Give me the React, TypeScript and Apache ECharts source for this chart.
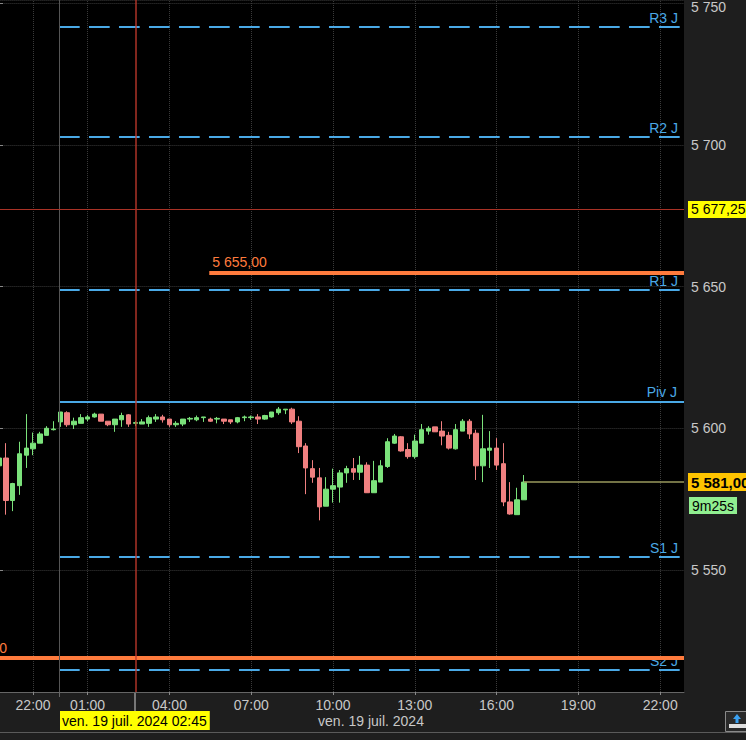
import React, { useEffect, useRef } from 'react';
import * as echarts from 'echarts';

// ---------- axis categories (15-minute slots) ----------
const PREV_DAY_SLOTS = ['20:45', '21:00', '21:15', '21:30', '21:45', '22:00', '22:15', '22:30', '22:45'];
const pad2 = (n: number) => (n < 10 ? '0' : '') + n;
const DAY_SLOTS: string[] = [];
for (let h = 0; h < 23; h++) for (let m = 0; m < 60; m += 15) DAY_SLOTS.push(`${pad2(h)}:${pad2(m)}`);
const CATEGORIES = PREV_DAY_SLOTS.concat(DAY_SLOTS);
const TICK_LABELS = ['22:00', '01:00', '04:00', '07:00', '10:00', '13:00', '16:00', '19:00'];

// ---------- candles ----------
const OPEN = [
  5586.75, 5589.5, 5574.5, 5579.75, 5590.5, 5592.75, 5594.75, 5597.5, 5599.5, 5602.25,
  5605.5, 5601.25, 5601.75, 5603.25, 5604, 5605, 5602.5, 5601.25, 5603, 5604.75,
  5601.75, 5601.5, 5601.75, 5603.25, 5604, 5603.25, 5601.25, 5601.5, 5603.25, 5603,
  5603.75, 5603.25, 5603.25, 5603.25, 5603, 5602.25, 5603.75, 5603.75, 5604, 5603.25,
  5604, 5605.5, 5606.5, 5606.75, 5602.5, 5593.75, 5585.75, 5582.5, 5572.5, 5578.5,
  5579.25, 5584.25, 5585.75, 5584.5, 5587, 5577.25, 5581, 5586.5, 5594.75, 5597,
  5592.5, 5590, 5594.75, 5599, 5600.5, 5599, 5597.5, 5592.75, 5599, 5602.5,
  5598.25, 5586.75, 5592.25, 5593, 5587.5, 5574, 5569.5, 5574.75,
];
const CLOSE = [
  5589.5, 5574.5, 5580.5, 5591, 5593, 5594.75, 5598, 5600, 5599.75, 5605.75,
  5601.25, 5602.5, 5603.75, 5604, 5605, 5602.5, 5601.25, 5603.25, 5604.5, 5601.5,
  5602, 5602.25, 5603.75, 5604, 5603, 5601.25, 5601.75, 5603.25, 5603.5, 5603.75,
  5604, 5602.5, 5603.5, 5602.5, 5602.25, 5603.75, 5604, 5604, 5603.25, 5604.5,
  5605.75, 5606.75, 5606.75, 5602.25, 5593.5, 5586, 5582.75, 5572.25, 5578.5, 5579.75,
  5584.25, 5585.75, 5584.5, 5587, 5577.25, 5581.5, 5586.75, 5595.25, 5597.25, 5592,
  5590, 5595.5, 5599.5, 5600, 5598.75, 5597.25, 5593, 5599.5, 5602.5, 5598,
  5586.75, 5592.75, 5593, 5587, 5574, 5569.75, 5574.75, 5581,
];
const LOW = [
  5585.5, 5569.5, 5570.75, 5576.5, 5586, 5590.5, 5594.75, 5597.5, 5599.25, 5600.5,
  5600.5, 5599.75, 5601.75, 5602.5, 5603.75, 5602.5, 5600.75, 5598.75, 5600.5, 5600.5,
  5600.75, 5601.5, 5600.5, 5602.25, 5602, 5600.5, 5600.5, 5600.75, 5602.25, 5602.5,
  5602.25, 5602.25, 5601.75, 5601.5, 5601.5, 5601.75, 5602.5, 5603, 5601.5, 5603,
  5603.75, 5604.75, 5605, 5601.5, 5591.25, 5576.75, 5580.75, 5567.5, 5572.5, 5573.75,
  5573.75, 5580.75, 5581.75, 5581.75, 5577.25, 5577.25, 5581, 5586, 5594.5, 5591.75,
  5589.25, 5589.25, 5594.75, 5597.75, 5598.75, 5594, 5592.5, 5592.5, 5599, 5596.25,
  5581.75, 5581, 5586, 5585.25, 5572.5, 5569.5, 5569.5, 5574.75,
];
const HIGH = [
  5590.5, 5594.75, 5580.75, 5595.25, 5605, 5598.5, 5598.75, 5600.75, 5602.5, 5605.75,
  5606, 5603.75, 5605, 5604.75, 5605.5, 5605, 5602.5, 5603.25, 5605.5, 5605,
  5602.5, 5603.25, 5604.5, 5605, 5604.75, 5603.25, 5602.5, 5603.25, 5604, 5604.5,
  5604, 5603.75, 5604, 5603.25, 5603, 5604, 5604.5, 5604.5, 5605, 5604.75,
  5605.75, 5607.5, 5606.75, 5607.25, 5604.25, 5594.75, 5588.75, 5586, 5582.75, 5585.75,
  5585.25, 5586.75, 5589.5, 5590.25, 5588, 5588.5, 5588.75, 5596.5, 5598, 5597.25,
  5594.75, 5597.75, 5601.5, 5600.75, 5600.5, 5602.5, 5598.75, 5601.5, 5603.25, 5603.25,
  5599.5, 5604.75, 5599, 5596.5, 5594.75, 5581, 5579, 5583.5,
];

// ---------- levels ----------
const PIVOT_NAMES = ['R3 J', 'R2 J', 'R1 J', 'Piv J', 'S1 J', 'S2 J'];
const PIVOT_VALUES = [5741.75, 5702.75, 5648.75, 5609.5, 5554.5, 5514.75];
const ORDER_VALUES = [5655, 5519];
const CROSS_PRICE = 5677.25;
const CROSS_SLOT = '02:45';
const LAST_PRICE = 5581;
const COUNTDOWN = '9m25s';
const DATE_LABEL = 'ven. 19 juil. 2024';
const Y_MIN = 5506.9;
const Y_MAX = 5751.2;

// ---------- styling ----------
const FONT = "'Liberation Sans', Arial, sans-serif";
const BLUE = '#4aa9e6';
const ORANGE = '#ff7b3d';
const UP = '#7be27b';
const DOWN = '#f08080';
const SESSION_START = 8.8;
const LAST_SLOT = CATEGORIES.length - 0.5;

const fmtInt = (v: number) => `${Math.floor(v / 1000)} ${String(Math.round(v % 1000)).padStart(3, '0')}`;
const fmtDec = (v: number) => {
  const int = Math.floor(v);
  const dec = Math.round((v - int) * 100);
  return `${fmtInt(int)},${String(dec).padStart(2, '0')}`;
};

const showTick = (_i: number, value: string) => TICK_LABELS.includes(value);
const GRID_SLOTS = CATEGORIES.map((c, i) => (TICK_LABELS.includes(c) ? i : -1)).filter((i) => i >= 0);
const CROSS_INDEX = CATEGORIES.indexOf(CROSS_SLOT);
const LAST_INDEX = OPEN.length - 1;

function hLine(v: number, from: number, to: number, color: string, width: number, type: any, label: any) {
  return [
    { coord: [from, v], lineStyle: { color, width, type }, label },
    { coord: [to, v], lineStyle: { color, width, type } },
  ];
}

function markSeries(z: number, lineStyle: any, data: any[], label: any = { show: false }) {
  return {
    type: 'line',
    xAxisIndex: 1,
    data: [],
    silent: true,
    markLine: { z, silent: true, symbol: ['none', 'none'], lineStyle, label, data },
  };
}

function buildOption(): any {
  const candleData = OPEN.map((o, i) => [o, CLOSE[i], LOW[i], HIGH[i]]);

  const pivotLines = PIVOT_NAMES.map((name, i) => {
    const solid = name.startsWith('Piv');
    return hLine(PIVOT_VALUES[i], SESSION_START, solid ? LAST_SLOT : 100.05, BLUE, 2, solid ? 'solid' : [20.7, 9.3], {
      show: true,
      formatter: name,
      position: 'insideEndTop',
      color: BLUE,
      fontSize: 14,
      fontFamily: FONT,
      distance: 2,
      padding: solid ? [0, 5, 0, 0] : [0, 1, 0, 0],
    });
  });

  const orderLines = [
    hLine(ORDER_VALUES[0], 30.85, LAST_SLOT, ORANGE, 4, 'solid', {
      show: true,
      formatter: fmtDec(ORDER_VALUES[0]),
      position: 'insideStartTop',
      color: ORANGE,
      fontSize: 14,
      fontFamily: FONT,
      distance: 3,
      padding: 0,
    }),
    hLine(ORDER_VALUES[1], -0.5, LAST_SLOT, ORANGE, 4, 'solid', { show: false }),
  ];

  return {
    animation: false,
    backgroundColor: '#1e1e1e',
    textStyle: { fontFamily: FONT },
    grid: {
      left: -4.4,
      right: 62,
      top: 0,
      bottom: 48,
      show: true,
      backgroundColor: '#000',
      borderWidth: 0,
      containLabel: false,
      outerBoundsMode: 'none',
    },
    xAxis: [
      {
        type: 'category',
        data: CATEGORIES,
        boundaryGap: true,
        axisLine: { lineStyle: { color: '#666' } },
        axisTick: { show: true, interval: showTick, alignWithLabel: true, length: 3, lineStyle: { color: '#888' } },
        axisLabel: { interval: showTick, color: '#c8c8c8', fontSize: 14, margin: 6, fontFamily: FONT },
        splitLine: { show: false },
      },
      { type: 'value', min: -0.5, max: LAST_SLOT, show: false, splitLine: { show: false } },
    ],
    yAxis: {
      type: 'value',
      position: 'right',
      min: Y_MIN,
      max: Y_MAX,
      splitNumber: 5,
      minInterval: 50,
      maxInterval: 50,
      axisLine: { show: true, lineStyle: { color: '#666' } },
      axisTick: { show: true, length: 4, lineStyle: { color: '#888' } },
      axisLabel: {
        color: '#c8c8c8',
        fontSize: 14,
        margin: 7,
        fontFamily: FONT,
        showMinLabel: false,
        showMaxLabel: false,
        formatter: (v: number) => {
          if (Math.abs(v % 50) > 1e-6) return '';
          return v + 50 > Y_MAX ? `{top|${fmtInt(v)}}` : fmtInt(v);
        },
        rich: {
          top: { color: '#c8c8c8', fontSize: 14, fontFamily: FONT, padding: [7, 0, 0, 0] },
        },
      },
      splitLine: { show: true, lineStyle: { color: '#3a3a3a', type: 'dotted' } },
    },
    series: [
      markSeries(1, { color: '#3a3a3a', type: 'dotted', width: 1 }, GRID_SLOTS.map((s) => ({ xAxis: s }))),
      {
        type: 'candlestick',
        xAxisIndex: 0,
        data: candleData,
        barWidth: 5,
        z: 2,
        itemStyle: {
          color: UP,
          color0: DOWN,
          borderColor: UP,
          borderColor0: DOWN,
          borderColorDoji: UP,
          borderWidth: 1,
        },
      },
      markSeries(5, { color: BLUE, width: 2 }, pivotLines),
      markSeries(6, { color: ORANGE, width: 4, type: 'solid' }, orderLines),
      markSeries(7, { color: '#555555', width: 1, type: 'solid' }, [[{ coord: [SESSION_START, Y_MIN] }, { coord: [SESSION_START, Y_MAX] }]]),
      markSeries(8, { color: '#c0392b', width: 1.5, type: 'solid', opacity: 0.9 }, [[{ coord: [CROSS_INDEX, Y_MIN] }, { coord: [CROSS_INDEX, Y_MAX] }]]),
      markSeries(
        8,
        { color: '#a93226', width: 1.2, type: 'solid' },
        [[{ coord: [-0.5, CROSS_PRICE] }, { coord: [LAST_SLOT, CROSS_PRICE] }]],
        {
          show: true,
          position: 'end',
          formatter: fmtDec(CROSS_PRICE),
          distance: 4,
          color: '#000',
          backgroundColor: '#ffff00',
          fontSize: 14,
          fontFamily: FONT,
          padding: [2, 3, 1, 3],
        },
      ),
      markSeries(
        8,
        { color: '#9a9a5e', width: 1.5, type: 'solid' },
        [[{ coord: [LAST_INDEX, LAST_PRICE] }, { coord: [LAST_SLOT, LAST_PRICE] }]],
        {
          show: true,
          position: 'end',
          formatter: fmtDec(LAST_PRICE),
          distance: 4,
          color: '#000',
          backgroundColor: '#ffc400',
          fontWeight: 'bold',
          fontSize: 15,
          fontFamily: FONT,
          padding: [2, 3, 1, 3],
        },
      ),
    ],
    graphic: [
      { type: 'line', shape: { x1: 0, y1: 732.5, x2: 746, y2: 732.5 }, style: { stroke: '#5a5a5a', lineWidth: 1 } },
      { type: 'line', shape: { x1: 59.5, y1: 692, x2: 59.5, y2: 697 }, style: { stroke: '#666', lineWidth: 1 } },
      { type: 'line', shape: { x1: 135, y1: 692, x2: 135, y2: 711 }, style: { stroke: '#d0d0d0', lineWidth: 1 } },
      {
        type: 'text',
        x: 371,
        y: 721,
        style: { text: DATE_LABEL, fill: '#c8c8c8', font: `14px ${FONT}`, align: 'center', verticalAlign: 'middle' },
      },
      {
        type: 'text',
        x: 60,
        y: 711,
        z: 10,
        style: {
          text: `${DATE_LABEL} ${CROSS_SLOT}`,
          fill: '#000',
          backgroundColor: '#ffff00',
          padding: [3, 3, 2, 2],
          font: `14px ${FONT}`,
          align: 'left',
          verticalAlign: 'top',
        },
      },
      {
        type: 'text',
        x: 689,
        y: 497,
        z: 10,
        style: {
          text: COUNTDOWN,
          fill: '#000',
          backgroundColor: '#90ee90',
          padding: [2, 3, 1, 3],
          font: `14px ${FONT}`,
          align: 'left',
          verticalAlign: 'top',
        },
      },
      {
        type: 'text',
        x: 7,
        y: 648,
        z: 10,
        style: { text: fmtDec(ORDER_VALUES[1]), fill: ORANGE, font: `14px ${FONT}`, align: 'right', verticalAlign: 'middle' },
      },
      {
        type: 'rect',
        shape: { x: 725.5, y: 711.5, width: 24, height: 20 },
        style: { fill: '#2a2a2a', stroke: '#8a8a8a', lineWidth: 1 },
      },
      {
        type: 'polygon',
        shape: { points: [[737, 714], [733, 719], [735.5, 719], [735.5, 723], [738.5, 723], [738.5, 719], [741, 719]] },
        style: { fill: '#3aa0f0' },
      },
      { type: 'rect', shape: { x: 729, y: 724, width: 17, height: 4 }, style: { fill: '#e0e0e0' } },
    ],
  };
}

export default function App() {
  const ref = useRef<HTMLDivElement>(null);
  useEffect(() => {
    document.body.style.margin = '0';
    const chart = echarts.init(ref.current!, null, { renderer: 'svg' });
    chart.setOption(buildOption());
    return () => chart.dispose();
  }, []);
  return <div ref={ref} style={{ position: 'absolute', left: 0, top: 0, width: 746, height: 740 }} />;
}
